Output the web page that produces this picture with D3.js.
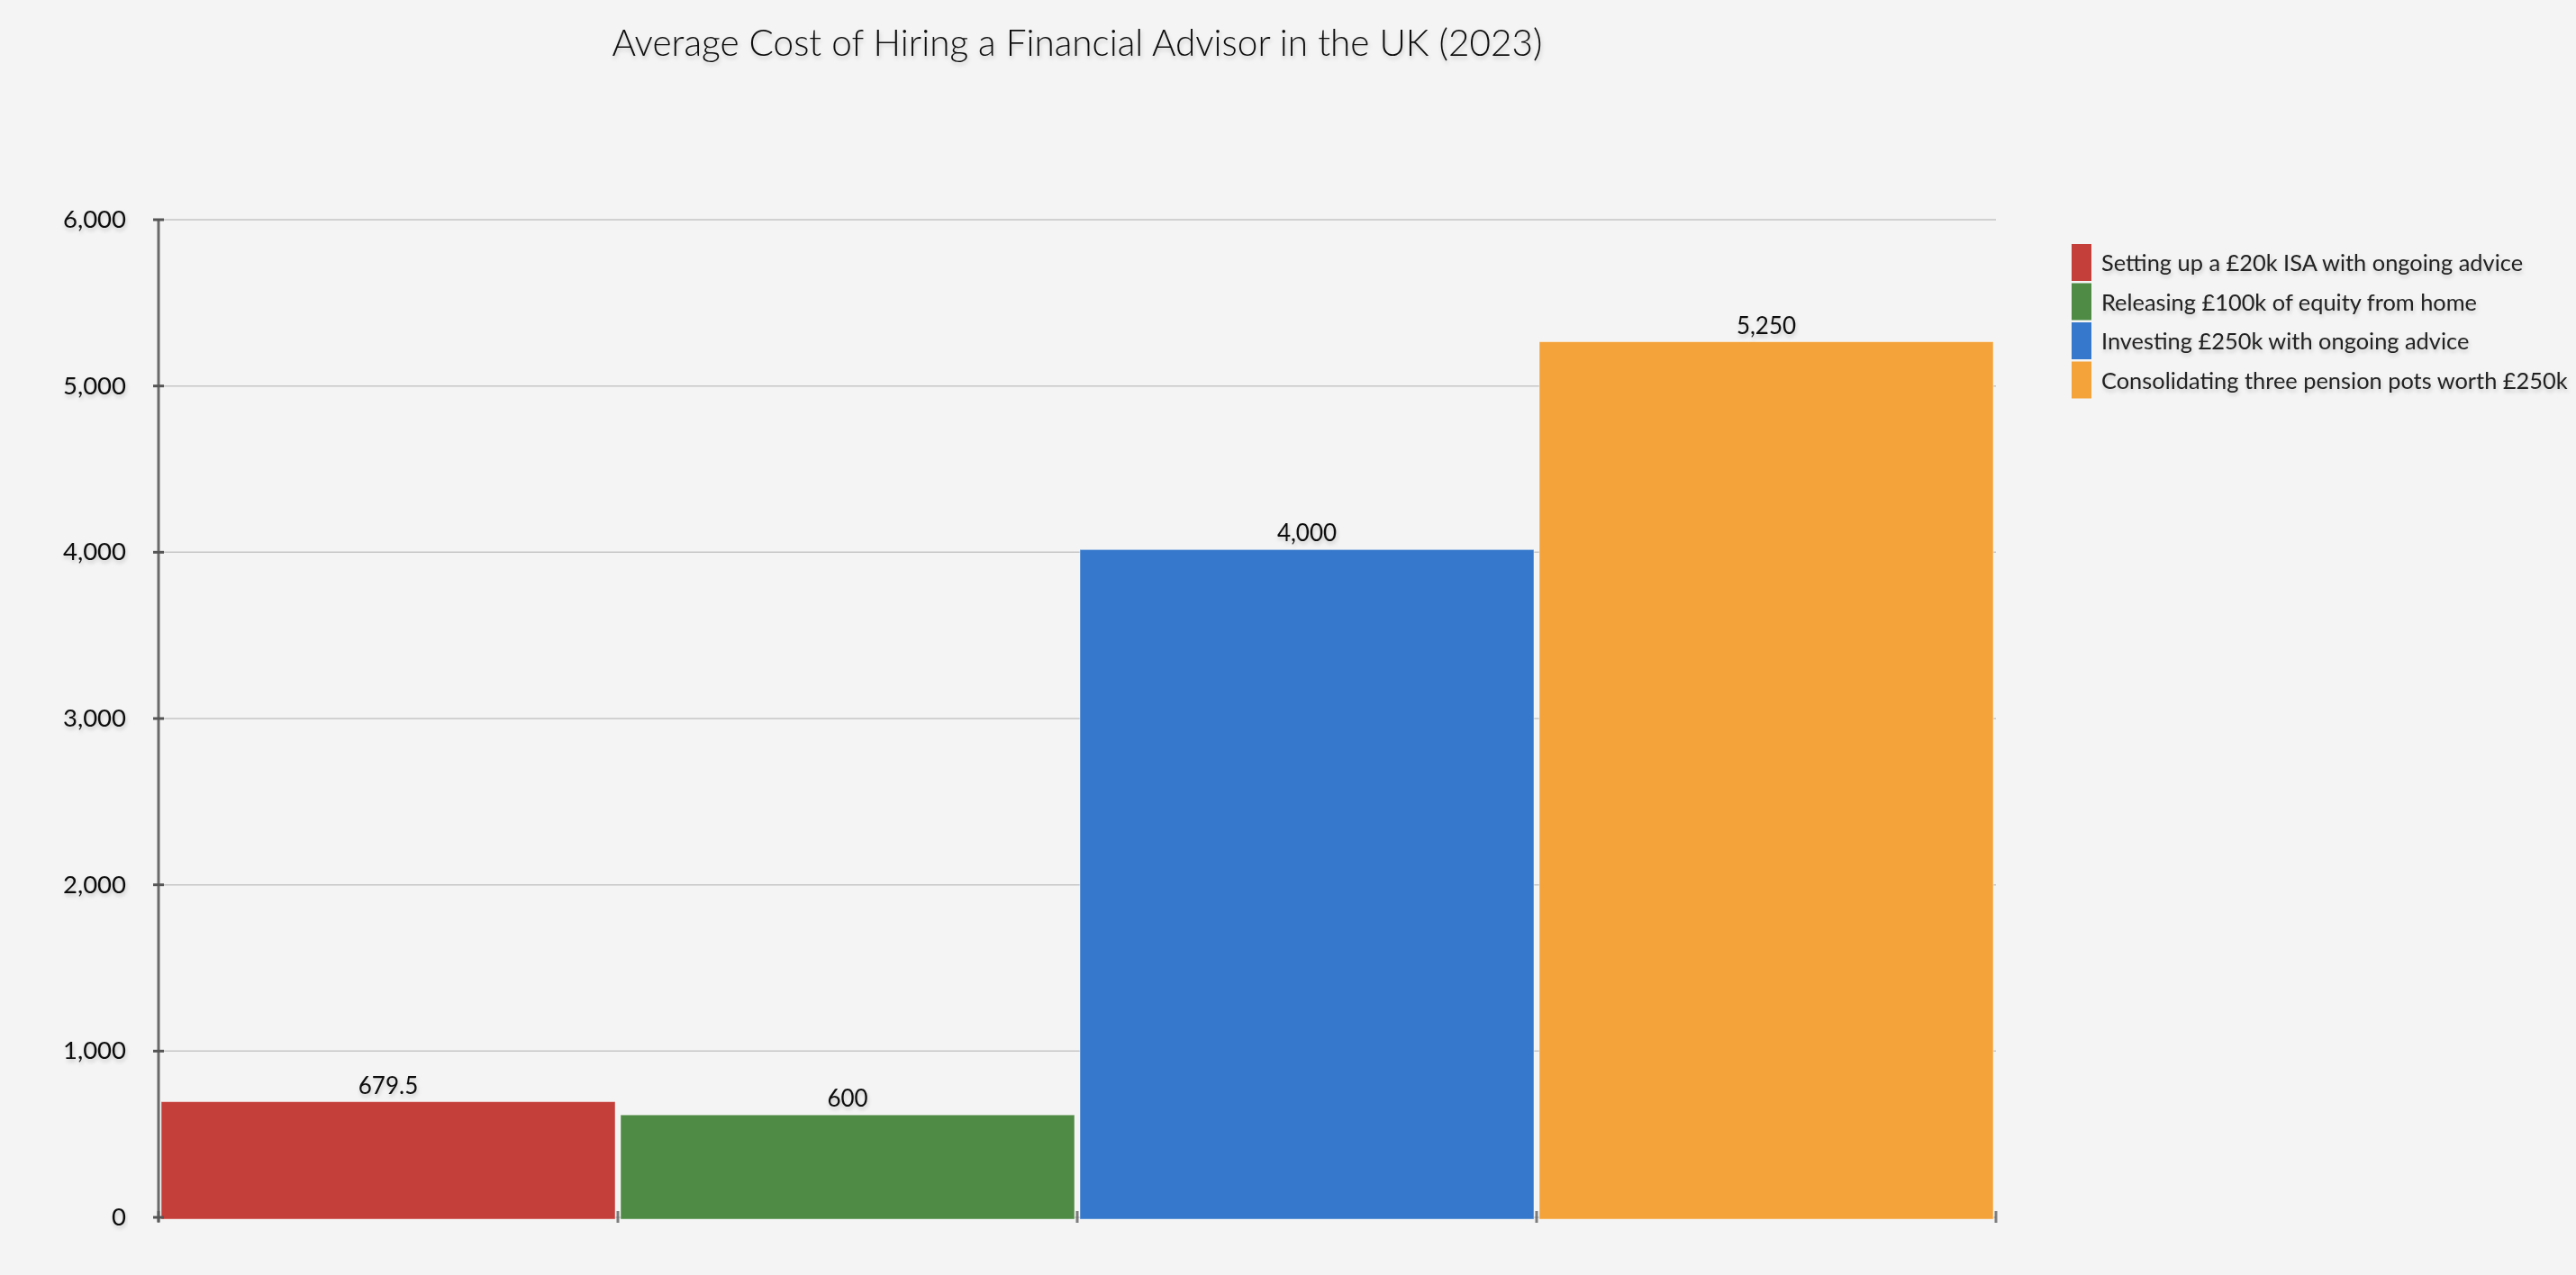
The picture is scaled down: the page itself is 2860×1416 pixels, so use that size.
<!DOCTYPE html>
<html>
<head>
<meta charset="utf-8">
<script src="https://cdn.jsdelivr.net/npm/d3@7"></script>
<style>
  body { margin: 0; background: #f4f4f4; }
  svg { display: block; }
</style>
</head>
<body>
<svg id="chart"></svg>
<script>
    // ******************** Data ************************
    var categories = [
        "Setting up a £20k ISA with ongoing advice",
        "Releasing £100k of equity from home",
        "Investing £250k with ongoing advice",
        "Consolidating three pension pots worth £250k"
    ];
    var costs = [679.5, 600, 4000, 5250];
    var barLabels = ["679.5", "600", "4,000", "5,250"];
    var colors = ["#c43f3a", "#4f8b45", "#3678cb", "#f4a33b"];
    var yTicks = [0, 1000, 2000, 3000, 4000, 5000, 6000];

    // ******************** Layout ************************
    var W = 2860, H = 1416;
    var plotLeft = 176, plotRight = 2216, plotTop = 244, plotBottom = 1352;

    var x = d3.scaleBand().domain(categories).range([plotLeft, plotRight]).padding(0);
    var y = d3.scaleLinear().domain([0, 6000]).range([plotBottom, plotTop]);

    var svg = d3.select("#chart").attr("width", W).attr("height", H);

    svg.append("rect").attr("width", W).attr("height", H).attr("fill", "#f4f4f4");

    // soft shadow on text
    var defs = svg.append("defs");
    defs.append("filter").attr("id", "shadow")
        .attr("x", "-10%").attr("y", "-30%").attr("width", "120%").attr("height", "160%")
        .append("feDropShadow")
        .attr("dx", 1).attr("dy", 3).attr("stdDeviation", 2)
        .attr("flood-color", "#000").attr("flood-opacity", 0.18);

    // title
    svg.append("text")
        .attr("x", 1196).attr("y", 62)
        .attr("text-anchor", "middle")
        .attr("filter", "url(#shadow)")
        .style("font-family", "Lato")
        .style("font-weight", 300)
        .style("font-size", "40.5px")
        .style("fill", "#111")
        .text("Average Cost of Hiring a Financial Advisor in the UK (2023)");

    // gridlines
    svg.append("g").selectAll("line")
        .data(yTicks)
        .enter().append("line")
        .attr("x1", plotLeft).attr("x2", plotRight)
        .attr("y1", function (d) { return y(d); })
        .attr("y2", function (d) { return y(d); })
        .style("stroke", "#c6c6c6")
        .style("stroke-width", 1.5);

    // bars (slightly raised outline like the original renderer)
    svg.append("g").selectAll("rect")
        .data(costs)
        .enter().append("rect")
        .attr("x", function (d, i) { return x(categories[i]) + 3; })
        .attr("width", x.bandwidth() - 6)
        .attr("y", function (d) { return y(d) - 3; })
        .attr("height", function (d) { return plotBottom + 5 - y(d); })
        .style("fill", function (d, i) { return colors[i]; })
        .style("stroke", "rgba(255,255,255,0.45)")
        .style("stroke-width", 1);

    // bar value labels
    svg.append("g").selectAll("text")
        .data(costs)
        .enter().append("text")
        .attr("x", function (d, i) { return x(categories[i]) + x.bandwidth() / 2; })
        .attr("y", function (d) { return y(d) - 12; })
        .attr("text-anchor", "middle")
        .attr("filter", "url(#shadow)")
        .style("font-family", "Lato")
        .style("font-size", "26px")
        .style("fill", "#111")
        .text(function (d, i) { return barLabels[i]; });

    // y axis
    var yAxis = svg.append("g").attr("class", "axis");
    yAxis.append("line")
        .attr("x1", plotLeft).attr("x2", plotLeft)
        .attr("y1", plotTop).attr("y2", plotBottom + 5)
        .style("stroke", "#6a6a6a").style("stroke-width", 3);
    yAxis.selectAll("line.tick")
        .data(yTicks)
        .enter().append("line")
        .attr("class", "tick")
        .attr("x1", plotLeft - 6).attr("x2", plotLeft + 6)
        .attr("y1", function (d) { return y(d); })
        .attr("y2", function (d) { return y(d); })
        .style("stroke", "#555").style("stroke-width", 3);
    yAxis.selectAll("text")
        .data(yTicks)
        .enter().append("text")
        .attr("x", 140)
        .attr("y", function (d) { return y(d) + 9; })
        .attr("text-anchor", "end")
        .attr("filter", "url(#shadow)")
        .style("font-family", "Lato")
        .style("font-size", "27.5px")
        .style("fill", "#111")
        .text(d3.format(","));

    // x ticks at band edges
    var edges = categories.map(function (c) { return x(c); }).concat([plotRight]);
    svg.append("g").selectAll("line")
        .data(edges)
        .enter().append("line")
        .attr("x1", function (d) { return d; })
        .attr("x2", function (d) { return d; })
        .attr("y1", plotBottom - 7).attr("y2", plotBottom + 6)
        .style("stroke", "#555").style("stroke-opacity", 0.75).style("stroke-width", 3);

    // legend
    var legend = svg.append("g").attr("transform", "translate(2300, 271)");
    var item = legend.selectAll("g")
        .data(categories)
        .enter().append("g")
        .attr("transform", function (d, i) { return "translate(0," + (i * 43.5) + ")"; });
    item.append("rect")
        .attr("width", 22).attr("height", 41)
        .style("fill", function (d, i) { return colors[i]; });
    item.append("text")
        .attr("x", 33).attr("y", 30)
        .attr("filter", "url(#shadow)")
        .style("font-family", "Lato")
        .style("font-size", "25.4px")
        .style("fill", "#222")
        .text(function (d) { return d; });
</script>
</body>
</html>
